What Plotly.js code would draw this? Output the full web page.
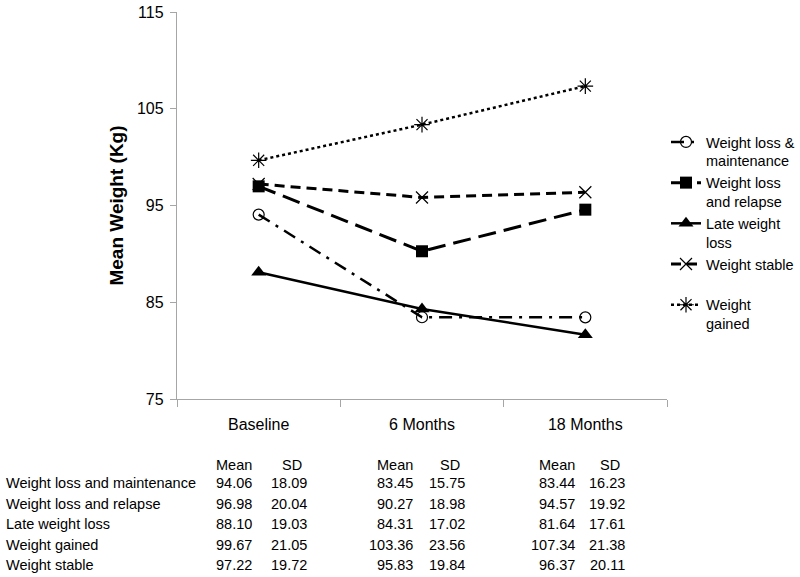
<!DOCTYPE html>
<html>
<head>
<meta charset="utf-8">
<script src="https://cdn.plot.ly/plotly-3.0.1.min.js"></script>
<style>
  html, body { margin: 0; padding: 0; background: #fff; }
  #chart { width: 800px; height: 577px; }
</style>
</head>
<body>
<div id="chart"></div>
<script>
// Time points and group names
const timepoints = ['Baseline', '6 Months', '18 Months'];
const groups = ['Weight loss and maintenance', 'Weight loss and relapse', 'Late weight loss', 'Weight gained', 'Weight stable'];

// Mean weight (Kg) per group at each time point
const meanMaintenance = [94.06, 83.45, 83.44];
const meanRelapse = [96.98, 90.27, 94.57];
const meanLate = [88.10, 84.31, 81.64];
const meanGained = [99.67, 103.36, 107.34];
const meanStable = [97.22, 95.83, 96.37];

// Standard deviations, same order
const sdMaintenance = [18.09, 15.75, 16.23];
const sdRelapse = [20.04, 18.98, 19.92];
const sdLate = [19.03, 17.02, 17.61];
const sdGained = [21.05, 23.56, 21.38];
const sdStable = [19.72, 19.84, 20.11];

const FONT = 'Arial, "Liberation Sans", sans-serif';

// Plot area in pixels (used to place the table under the axis)
const plotLeft = 177, plotRight = 667, plotTop = 12, plotBottom = 399;
const px = x => (x - plotLeft) / (plotRight - plotLeft);
const py = y => (plotBottom - y) / (plotBottom - plotTop);

const traces = [
  {
    name: 'Weight loss &<br>maintenance', y: meanMaintenance,
    line: { color: '#000', width: 2.5, dash: '13px,7px,3px,7px' },
    marker: { symbol: 'circle-open', size: 11, color: '#000', line: { width: 1.2 } }
  },
  {
    name: 'Weight loss<br>and relapse', y: meanRelapse,
    line: { color: '#000', width: 3, dash: '18px,8px' },
    marker: { symbol: 'square', size: 12, color: '#000' }
  },
  {
    name: 'Late weight<br>loss', y: meanLate,
    line: { color: '#000', width: 2.5 },
    marker: { symbol: 'triangle-up', size: 13, color: '#000' }
  },
  {
    name: 'Weight stable<br> ', y: meanStable,
    line: { color: '#000', width: 3, dash: '10px,6px' },
    marker: { symbol: 'x-thin-open', size: 12, color: '#000', line: { width: 1.2 } }
  },
  {
    name: 'Weight<br>gained', y: meanGained,
    line: { color: '#000', width: 2.5, dash: 'dot' },
    marker: { symbol: 'asterisk-open', size: 13, color: '#000', line: { width: 1.2 } }
  }
].map(t => Object.assign({ x: timepoints, type: 'scatter', mode: 'lines+markers' }, t));

// Table of means and SDs below the chart
const rowMeans = [meanMaintenance, meanRelapse, meanLate, meanGained, meanStable];
const rowSds = [sdMaintenance, sdRelapse, sdLate, sdGained, sdStable];
const meanRight = [254, 415, 577];
const sdRight = [309, 467, 627];
const headerY = 465;
const rowY = [483, 504, 524, 545, 565];

const annotations = [];
const tfont = { family: FONT, size: 14.5, color: '#000' };
function addText(text, x, y, anchor) {
  annotations.push({
    text: text, xref: 'paper', yref: 'paper', x: px(x), y: py(y),
    xanchor: anchor, yanchor: 'middle', showarrow: false, font: tfont
  });
}
timepoints.forEach((tp, j) => {
  addText('Mean', meanRight[j], headerY, 'right');
  addText('SD', sdRight[j] - 17, headerY, 'center');
});
groups.forEach((g, i) => {
  addText(g, 4, rowY[i], 'left');
  timepoints.forEach((tp, j) => {
    addText(rowMeans[i][j].toFixed(2), meanRight[j], rowY[i], 'right');
    addText(rowSds[i][j].toFixed(2), sdRight[j], rowY[i], 'right');
  });
});

const layout = {
  width: 800, height: 577,
  margin: { l: plotLeft, r: 800 - plotRight, t: plotTop, b: 577 - plotBottom, autoexpand: false },
  paper_bgcolor: '#fff', plot_bgcolor: '#fff',
  font: { family: FONT, color: '#000' },
  showlegend: true,
  legend: {
    xref: 'container', yref: 'container',
    x: 666 / 800, y: 1 - 126 / 577, xanchor: 'left', yanchor: 'top',
    valign: 'top', font: { family: FONT, size: 14.5, color: '#000' },
    bgcolor: 'rgba(0,0,0,0)'
  },
  xaxis: {
    type: 'category', range: [-0.5, 2.5],
    showline: true, linecolor: '#a6a6a6', linewidth: 1.2,
    ticks: 'outside', tickson: 'boundaries', ticklen: 7, tickcolor: '#a6a6a6',
    ticklabelstandoff: 11,
    tickfont: { family: FONT, size: 16, color: '#000' },
    showgrid: false, zeroline: false
  },
  yaxis: {
    range: [75, 115], dtick: 10, tick0: 75,
    showline: true, linecolor: '#a6a6a6', linewidth: 1.2,
    ticks: 'outside', ticklen: 6, tickcolor: '#a6a6a6',
    ticklabelstandoff: 3,
    tickfont: { family: FONT, size: 16, color: '#000' },
    showgrid: false, zeroline: false,
    title: { text: '<b>Mean Weight (Kg)</b>', font: { family: FONT, size: 19, color: '#000' }, standoff: 8 },
    automargin: true
  },
  annotations: annotations
};

Plotly.newPlot('chart', traces, layout, { displayModeBar: false, staticPlot: true });
</script>
</body>
</html>
